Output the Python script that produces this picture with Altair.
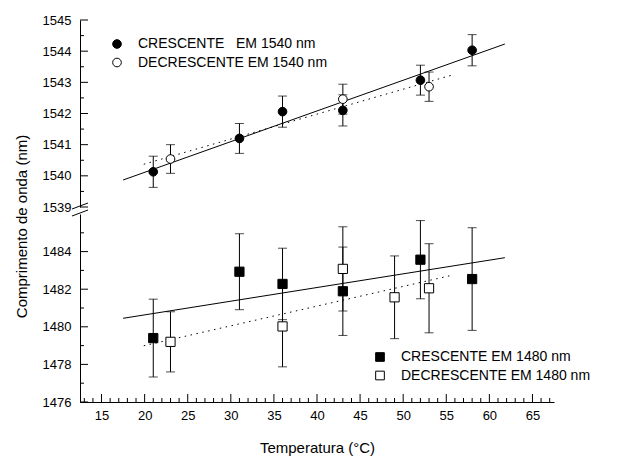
import altair as alt
import pandas as pd

# ---- data ----
T_C1540 = [21, 31, 36, 43, 52, 58]
L_C1540 = [1540.13, 1541.20, 1542.06, 1542.10, 1543.07, 1544.03]
E_C1540 = [0.50, 0.48, 0.50, 0.50, 0.48, 0.50]

T_D1540 = [23, 43, 53]
L_D1540 = [1540.54, 1542.46, 1542.86]
E_D1540 = [0.46, 0.48, 0.47]

T_C1480 = [21, 31, 36, 43, 52, 58]
L_C1480 = [1479.40, 1482.93, 1482.28, 1481.89, 1483.57, 1482.54]
E_C1480 = [2.07, 2.02, 1.90, 2.35, 2.08, 2.73]

T_D1480 = [23, 36, 43, 49, 53]
L_D1480 = [1479.20, 1480.02, 1483.08, 1481.57, 1482.05]
E_D1480 = [1.60, 2.15, 2.24, 2.20, 2.37]

S_C1540 = "CRESCENTE\u00a0\u00a0\u00a0EM 1540 nm"
S_D1540 = "DECRESCENTE EM 1540 nm"
S_C1480 = "CRESCENTE EM 1480 nm"
S_D1480 = "DECRESCENTE EM 1480 nm"

# axis tick values
X_MAJOR = [15, 20, 25, 30, 35, 40, 45, 50, 55, 60, 65]
X_MINOR = [v for v in range(13, 68) if v % 5 != 0]
Y_TOP_MAJOR = [1539, 1540, 1541, 1542, 1543, 1544, 1545]
Y_TOP_MINOR = [1539.5, 1540.5, 1541.5, 1542.5, 1543.5, 1544.5]
Y_BOT_MAJOR = [1476, 1478, 1480, 1482, 1484]
Y_BOT_MINOR = [1477, 1479, 1481, 1483, 1485]

FIT_C_EXT = [17.5, 61.8]
FIT_D_EXT = [19.9, 55.7]

FONT = "Liberation Sans"
W = 474
H_TOP = 187
H_BOT = 188

xscale = alt.Scale(domain=[12.5, 67.5], nice=False, zero=False)


def frame(T, L, E, s):
    return pd.DataFrame({"T": T, "L": L, "E": E, "serie": [s] * len(T)})


def panel(dfs, names, ydomain, height, shape, ymaj, ymin, show_x, legend_xy, ytitle):
    df = pd.concat(dfs, ignore_index=True)
    yscale = alt.Scale(domain=ydomain, nice=False, zero=False)
    if show_x:
        xaxis = alt.Axis(values=X_MAJOR, ticks=False, labelPadding=7, format="d",
                         title="Temperatura (°C)", titlePadding=18,
                         grid=False, domainColor="black")
    else:
        xaxis = None

    def X(field):
        return alt.X(field, scale=xscale, axis=xaxis)

    if ytitle:
        yaxis = alt.Axis(values=ymaj, ticks=False, labelPadding=9, grid=False, format="d",
                         title=ytitle, titleX=-59, titleY=206, titleAngle=-90,
                         titleAlign="center", titleBaseline="middle",
                         domainColor="black")
    else:
        yaxis = alt.Axis(values=ymaj, ticks=False, labelPadding=9, grid=False, format="d",
                         title=None, domainColor="black")

    def Y(field):
        return alt.Y(field, scale=yscale, axis=yaxis)

    base = alt.Chart(df)

    fit_c = base.transform_filter(alt.datum.serie == names[0]).transform_regression(
        "T", "L", extent=FIT_C_EXT).mark_line(color="black", strokeWidth=1).encode(
        x=X("T:Q"), y=Y("L:Q"))
    fit_d = base.transform_filter(alt.datum.serie == names[1]).transform_regression(
        "T", "L", extent=FIT_D_EXT).mark_line(color="black", strokeWidth=1,
                                              strokeDash=[1.5, 4.5]).encode(
        x=X("T:Q"), y=Y("L:Q"))

    err = base.transform_calculate(lo="datum.L - datum.E", hi="datum.L + datum.E")
    bars = err.mark_rule(color="black", strokeWidth=1).encode(
        x=X("T:Q"), y=Y("lo:Q"), y2="hi:Q")
    cap_lo = err.mark_tick(color="black", thickness=1, size=9, orient="horizontal").encode(
        x=X("T:Q"), y=Y("lo:Q"))
    cap_hi = err.mark_tick(color="black", thickness=1, size=9, orient="horizontal").encode(
        x=X("T:Q"), y=Y("hi:Q"))

    pts = base.mark_point(shape=shape, filled=True, size=75 if shape == "circle" else 85,
                          stroke="black", strokeWidth=1, opacity=1).encode(
        x=X("T:Q"),
        y=Y("L:Q"),
        fill=alt.Fill("serie:N", scale=alt.Scale(domain=names, range=["black", "white"]),
                      legend=alt.Legend(title=None, orient="none", legendX=legend_xy[0],
                                        legendY=legend_xy[1], symbolType=shape,
                                        symbolSize=75, symbolStrokeColor="black",
                                        symbolStrokeWidth=1, labelFontSize=14,
                                        labelFont=FONT, labelColor="black",
                                        labelOffset=14, rowPadding=4.5, padding=0,
                                        labelLimit=400)),
    )

    ytm = alt.Chart(pd.DataFrame({"v": ymaj})).mark_rule(color="black").encode(
        y=Y("v:Q"), x=alt.value(0), x2=alt.value(8))
    ytn = alt.Chart(pd.DataFrame({"v": ymin})).mark_rule(color="black").encode(
        y=Y("v:Q"), x=alt.value(0), x2=alt.value(4))
    layers = [fit_c, fit_d, bars, cap_lo, cap_hi, pts, ytm, ytn]
    if show_x:
        xtm = alt.Chart(pd.DataFrame({"v": X_MAJOR})).mark_rule(color="black").encode(
            x=X("v:Q"), y=alt.value(height), y2=alt.value(height - 8))
        xtn = alt.Chart(pd.DataFrame({"v": X_MINOR})).mark_rule(color="black").encode(
            x=X("v:Q"), y=alt.value(height), y2=alt.value(height - 4))
        layers += [xtm, xtn]
    else:
        one = alt.Chart(pd.DataFrame({"k": [0]}))
        br1 = one.mark_rule(color="black", strokeWidth=1).encode(
            x=alt.value(-8), x2=alt.value(8), y=alt.value(height + 2), y2=alt.value(height - 4))
        br2 = one.mark_rule(color="black", strokeWidth=1).encode(
            x=alt.value(-8), x2=alt.value(8), y=alt.value(height + 9), y2=alt.value(height + 3))
        layers += [br1, br2]
    return alt.layer(*layers).properties(width=W, height=height)


top = panel([frame(T_C1540, L_C1540, E_C1540, S_C1540),
             frame(T_D1540, L_D1540, E_D1540, S_D1540)],
            [S_C1540, S_D1540], [1539, 1545], H_TOP, "circle",
            Y_TOP_MAJOR, Y_TOP_MINOR, False, (30, 17), "Comprimento de onda (nm)")

bot = panel([frame(T_C1480, L_C1480, E_C1480, S_C1480),
             frame(T_D1480, L_D1480, E_D1480, S_D1480)],
            [S_C1480, S_D1480], [1476, 1486], H_BOT, "square",
            Y_BOT_MAJOR, Y_BOT_MINOR, True, (293, 136), None)

chart = alt.vconcat(top, bot, spacing=7, bounds="flush").resolve_scale(
    fill="independent", y="independent").resolve_legend(fill="independent").properties(
    padding={"left": 14, "top": 14, "right": 5, "bottom": 5},
    background="white",
).configure_view(stroke=None).configure_axis(
    labelFont=FONT, titleFont=FONT, labelFontSize=13, titleFontSize=15,
    labelColor="black", titleColor="black", titleFontWeight="normal"
)

chart.save("out.html", embed_options={"renderer": "svg", "actions": False})
